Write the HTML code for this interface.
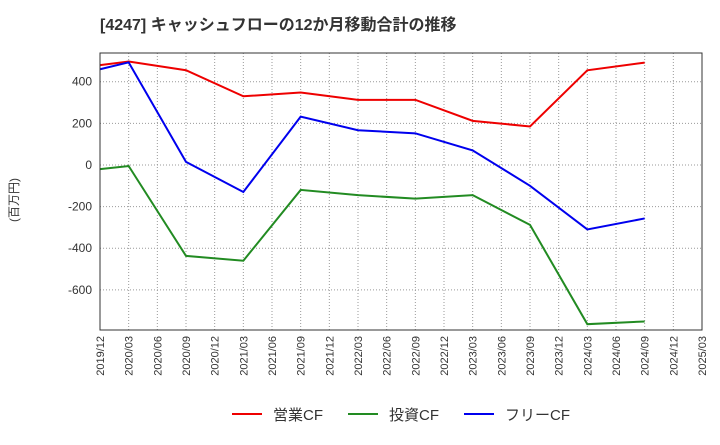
<!DOCTYPE html>
<html><head><meta charset="utf-8"><style>
body{margin:0;background:#fff;font-family:"Liberation Sans","Noto Sans CJK JP",sans-serif;}
</style></head><body>
<svg width="720" height="440" xmlns="http://www.w3.org/2000/svg" id="chart" font-family="Liberation Sans, Noto Sans CJK JP, sans-serif">
<text x="100" y="30" font-size="16" font-weight="bold" fill="#333">[4247]  キャッシュフローの12か月移動合計の推移</text>
<text x="18" y="200" font-size="12" fill="#333" transform="rotate(-90 18 200)" text-anchor="middle">(百万円)</text>
<g id="grid"></g><g id="series"></g><g id="axes"></g>
<g>
<g><line x1="232" y1="414" x2="262" y2="414" stroke="#e00" stroke-width="2"/><text x="273" y="420" font-size="15" fill="#333">営業CF</text></g>
<g><line x1="348" y1="414" x2="378" y2="414" stroke="#228b22" stroke-width="2"/><text x="389" y="420" font-size="15" fill="#333">投資CF</text></g>
<g><line x1="464" y1="414" x2="494" y2="414" stroke="#00e" stroke-width="2"/><text x="505" y="420" font-size="15" fill="#333">フリーCF</text></g>
</g>
</svg>
<script>
const xLabels=["2019/12","2020/03","2020/06","2020/09","2020/12","2021/03","2021/06","2021/09","2021/12","2022/03","2022/06","2022/09","2022/12","2023/03","2023/06","2023/09","2023/12","2024/03","2024/06","2024/09","2024/12","2025/03"];
const pointIdx=[0,1,3,5,7,9,11,13,15,17,19];
const operatingCF=[480,497,455,330,348,313,313,212,185,455,492];
const investingCF=[-20,-5,-437,-460,-120,-145,-162,-145,-288,-765,-752];
const freeCF=[460,493,15,-130,232,167,152,70,-100,-310,-257];
const yTicks=[400,200,0,-200,-400,-600];
const L=100,R=702,T=53,B=330,yMax=538,yMin=-793;
const ns="http://www.w3.org/2000/svg";
const xs=i=>L+i*(R-L)/(xLabels.length-1);
const ys=v=>T+(yMax-v)/(yMax-yMin)*(B-T);
function mk(t,a,p){const e=document.createElementNS(ns,t);for(const k in a)e.setAttribute(k,a[k]);p.appendChild(e);return e;}
const grid=document.getElementById('grid'),axes=document.getElementById('axes'),ser=document.getElementById('series');
xLabels.forEach((lab,i)=>{const x=xs(i);
 const g=mk('line',{x1:x,x2:x,y1:T,y2:B,stroke:'#999','stroke-dasharray':'1,2'},grid);
 
 const t=mk('text',{x:x+4,y:B+6,'font-size':11,fill:'#333','text-anchor':'end',transform:`rotate(-90 ${x+4} ${B+6})`},axes);
 t.textContent=lab;});
yTicks.forEach(v=>{const y=ys(v);
 const g=mk('line',{x1:L,x2:R,y1:y,y2:y,stroke:'#999','stroke-dasharray':'1,2'},grid);
 
 const t=mk('text',{x:L-8,y:y+4,'font-size':12,fill:'#333','text-anchor':'end'},axes);
 t.textContent=v;});
const fr=mk('rect',{x:L,y:T,width:R-L,height:B-T,fill:'none',stroke:'#333'},axes);

[[operatingCF,'#e00','operating-cf-line'],[investingCF,'#228b22','investing-cf-line'],[freeCF,'#00e','free-cf-line']].forEach(([d,c,n])=>{
 const p=mk('polyline',{points:d.map((v,i)=>xs(pointIdx[i])+','+ys(v)).join(' '),fill:'none',stroke:c,'stroke-width':2},ser);
 });
</script>
</body></html>
